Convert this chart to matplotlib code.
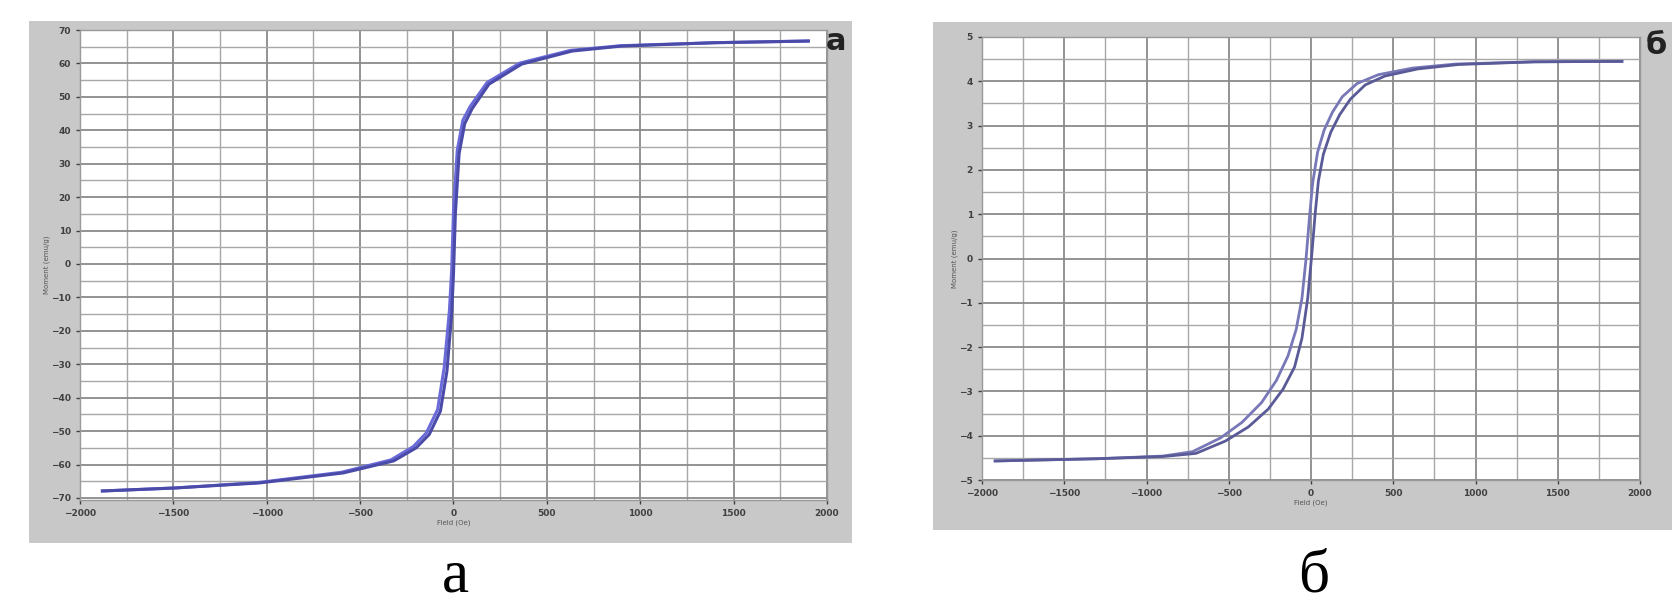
import numpy as np
import matplotlib.pyplot as plt
from matplotlib.ticker import MultipleLocator

# Panel (a): hysteresis loop, field in Oe, moment in emu/g
a_up_H = [-1880, -1490, -1040, -590, -320, -200, -130, -70, -35, -10, 0, 10, 30, 60, 100, 190, 365, 635, 900, 1400, 1900]
a_up_M = [-67.9, -67.0, -65.5, -62.5, -58.9, -55.0, -51.0, -44.0, -32.0, -15.0, -3.0, 15.0, 33.0, 42.0, 46.5, 53.8, 59.8, 63.7, 65.2, 66.2, 66.7]
a_dn_H = [-1880, -1490, -1050, -600, -335, -215, -145, -85, -50, -22, -10, 0, 20, 50, 90, 180, 355, 625, 895, 1400, 1900]
a_dn_M = [-67.9, -67.0, -65.4, -62.3, -58.6, -54.6, -50.5, -43.5, -31.0, -14.0, -2.0, 16.0, 34.0, 43.0, 47.2, 54.3, 60.1, 63.9, 65.3, 66.2, 66.7]

# Panel (б)
b_up_H = [-1920, -1300, -900, -700, -520, -380, -260, -170, -100, -55, -20, 5, 25, 45, 75, 120, 175, 240, 330, 450, 650, 900, 1360, 1890]
b_up_M = [-4.57, -4.52, -4.47, -4.40, -4.12, -3.80, -3.40, -2.95, -2.45, -1.80, -0.90, 0.10, 1.00, 1.75, 2.35, 2.85, 3.25, 3.60, 3.92, 4.12, 4.28, 4.38, 4.44, 4.45]
b_dn_H = [-1920, -1300, -900, -720, -550, -420, -300, -210, -140, -90, -55, -30, -10, 10, 40, 80, 130, 190, 280, 410, 620, 880, 1360, 1890]
b_dn_M = [-4.57, -4.52, -4.46, -4.36, -4.05, -3.70, -3.25, -2.75, -2.20, -1.60, -0.90, 0.00, 0.90, 1.70, 2.40, 2.90, 3.30, 3.65, 3.95, 4.15, 4.30, 4.39, 4.44, 4.45]

x_ticks = [-2000, -1500, -1000, -500, 0, 500, 1000, 1500, 2000]
a_y_ticks = list(range(-70, 71, 10))
b_y_ticks = list(range(-5, 6, 1))

W, H = 1672, 605
fig = plt.figure(figsize=(W / 100, H / 100), dpi=100)
fig.patch.set_facecolor('white')


def px_axes(x0, y0, x1, y1):
    return fig.add_axes([x0 / W, 1 - y1 / H, (x1 - x0) / W, (y1 - y0) / H])


def frame(x0, y0, x1, y1):
    # grey window behind the plot
    fr = px_axes(x0, y0, x1, y1)
    fr.set_facecolor('#c8c8c8')
    fr.set_xticks([])
    fr.set_yticks([])
    for s in fr.spines.values():
        s.set_visible(False)
    return fr


def setup(ax, xlim, ylim, yticks, ystep):
    ax.set_facecolor('white')
    ax.set_xlim(*xlim)
    ax.set_ylim(*ylim)
    ax.set_xticks(x_ticks)
    ax.set_yticks(yticks)
    ax.xaxis.set_minor_locator(MultipleLocator(250))
    ax.yaxis.set_minor_locator(MultipleLocator(ystep / 2))
    ax.grid(True, which='major', color='#8a8a8a', linewidth=1.3)
    ax.grid(True, which='minor', color='#a8a8a8', linewidth=1.0)
    ax.set_axisbelow(True)
    ax.tick_params(labelsize=6.5, colors='#404040', length=3, width=1)
    ax.tick_params(which='minor', length=0)
    for lab in ax.get_xticklabels() + ax.get_yticklabels():
        lab.set_fontweight('bold')
    for s in ax.spines.values():
        s.set_color('#999999')
        s.set_linewidth(1)
    ax.set_xlabel('Field (Oe)', fontsize=5, color='#555555', labelpad=1)
    ax.set_ylabel('Moment (emu/g)', fontsize=5, color='#555555', labelpad=1)


# left window
fr1 = frame(29, 21, 852, 543)
ax1 = px_axes(80, 30, 827, 500)
setup(ax1, (-2000, 2000), (-70.6, 70), a_y_ticks, 10)
ax1.plot(a_dn_H, a_dn_M, color='#6a6ad8', linewidth=2.2)
ax1.plot(a_up_H, a_up_M, color='#4a4aa8', linewidth=2.2)
fig.text(836 / W, 1 - 42 / H, 'а', fontsize=22, fontweight='bold', color='#222222',
         ha='center', va='center')

# right window
fr2 = frame(933, 22, 1672, 530)
ax2 = px_axes(982, 37, 1640, 480)
setup(ax2, (-2000, 2000), (-5, 5), b_y_ticks, 1)
ax2.plot(b_dn_H, b_dn_M, color='#7878b8', linewidth=2.0)
ax2.plot(b_up_H, b_up_M, color='#5a5a98', linewidth=2.0)
fig.text(1656 / W, 1 - 45 / H, 'б', fontsize=22, fontweight='bold', color='#222222',
         ha='center', va='center')

# captions
fig.text(455 / W, 1 - 591 / H, 'а', fontsize=44, family='Liberation Serif',
         ha='center', va='baseline')
fig.text(1314 / W, 1 - 591 / H, 'б', fontsize=44, family='Liberation Serif',
         ha='center', va='baseline')

fig.savefig('out.png', dpi=100)
